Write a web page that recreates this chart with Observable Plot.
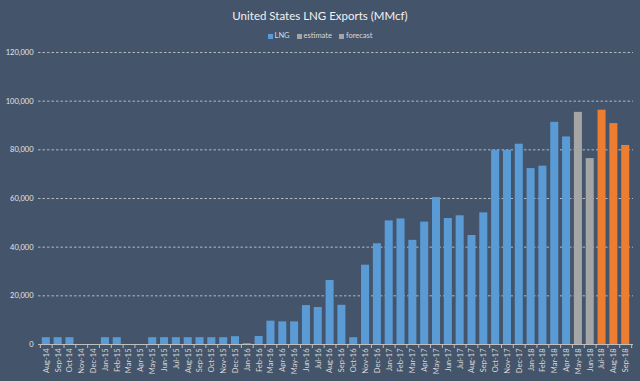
<!DOCTYPE html>
<html><head><meta charset="utf-8">
<script src="https://cdn.jsdelivr.net/npm/d3@7"></script>
<script src="https://cdn.jsdelivr.net/npm/@observablehq/plot@0.6"></script>
<style>
html,body{margin:0;padding:0;background:#44546a;}
body{width:640px;height:381px;overflow:hidden;font-family:Lato,"Open Sans",sans-serif;box-sizing:border-box;}
#title{height:27px;line-height:32px;text-align:center;color:#f2f2f2;font-size:11.5px;}
#legend{height:17px;display:flex;justify-content:center;align-items:center;gap:7px;color:#d9d9d9;font-size:7.5px;}
#legend span.sw{display:inline-block;width:5px;height:5px;margin-right:2px;vertical-align:middle;}
#chart svg{display:block;}
</style>
</head><body>
<div id="title">United States LNG Exports (MMcf)</div>
<div id="legend"></div>
<div id="chart"></div>
<script>
const months = ["Aug-14","Sep-14","Oct-14","Nov-14","Dec-14",
"Jan-15","Feb-15","Mar-15","Apr-15","May-15","Jun-15","Jul-15","Aug-15","Sep-15","Oct-15","Nov-15","Dec-15",
"Jan-16","Feb-16","Mar-16","Apr-16","May-16","Jun-16","Jul-16","Aug-16","Sep-16","Oct-16","Nov-16","Dec-16",
"Jan-17","Feb-17","Mar-17","Apr-17","May-17","Jun-17","Jul-17","Aug-17","Sep-17","Oct-17","Nov-17","Dec-17",
"Jan-18","Feb-18","Mar-18","Apr-18","May-18","Jun-18","Jul-18","Aug-18","Sep-18"];
const values = [2800,2800,2800,0,0,
2800,2800,0,0,2800,2800,2800,2800,2800,2800,2800,3200,
400,3300,9600,9300,9300,16000,15200,26300,16100,2800,32600,41400,
50800,51600,42800,50300,60400,51800,52900,44800,54100,79800,79800,82300,
72300,73300,91300,85300,95400,76400,96300,90800,81800];
const seriesOf = ["LNG","LNG","LNG","LNG","LNG",
"LNG","LNG","LNG","LNG","LNG","LNG","LNG","LNG","LNG","LNG","LNG","LNG",
"LNG","LNG","LNG","LNG","LNG","LNG","LNG","LNG","LNG","LNG","LNG","LNG",
"LNG","LNG","LNG","LNG","LNG","LNG","LNG","LNG","LNG","LNG","LNG","LNG",
"LNG","LNG","LNG","LNG","estimate","estimate","forecast","forecast","forecast"];
const seriesNames = ["LNG","estimate","forecast"];
const yTicks = [0,20000,40000,60000,80000,100000,120000];

const barColors = ["#5b9bd5","#a5a5a5","#ed7d31"];
const legendColors = ["#5b9bd5","#a5a5a5","#a5a5a5"];

const data = months.map((m,i)=>({month:m, value:values[i], series:seriesOf[i]}));

const legend = document.getElementById("legend");
seriesNames.forEach((s,i)=>{
  const d = document.createElement("div");
  d.innerHTML = `<span class="sw" style="background:${legendColors[i]}"></span>${s}`;
  legend.appendChild(d);
});

const W = 640, H = 337, mL = 38, mR = 7;
const step = (W - mL - mR) / months.length;

const chart = Plot.plot({
  width: W, height: H,
  marginTop: 8, marginBottom: 37, marginLeft: mL, marginRight: mR,
  style: {background:"transparent", color:"#d9d9d9", fontFamily:"Lato, 'Open Sans', sans-serif"},
  x: {domain: months, padding: 0.32, label: null, axis: null},
  y: {domain: [0,120000], label: null, axis: null},
  color: {domain: seriesNames, range: barColors},
  marks: [
    Plot.ruleY(yTicks.filter(d=>d>0), {stroke:"#d9d9d9", strokeDasharray:"2.5,2", strokeWidth:1, strokeOpacity:0.75}),
    Plot.barY(data, {x:"month", y:"value", fill:"series"}),
    Plot.ruleY([0], {stroke:"#bfbfbf", strokeWidth:1}),
    Plot.ruleX(months, {x: d=>d, dx: -step/2, y1: 0, y2: 0, insetBottom: -4, stroke:"#bfbfbf", strokeWidth:1}),
    Plot.ruleX([months[months.length-1]], {x: d=>d, dx: step/2, y1: 0, y2: 0, insetBottom: -4, stroke:"#bfbfbf", strokeWidth:1}),
    Plot.axisX({tickRotate:-90, tickSize:0, tickPadding:4, fontSize:7.5, fill:"#d9d9d9", label:null}),
    Plot.axisY({ticks: yTicks, tickFormat: d3.format(","), tickSize:0, tickPadding:5, fontSize:7.5, fill:"#e6e6e6", label:null})
  ]
});
document.getElementById("chart").appendChild(chart);
</script>
</body></html>
